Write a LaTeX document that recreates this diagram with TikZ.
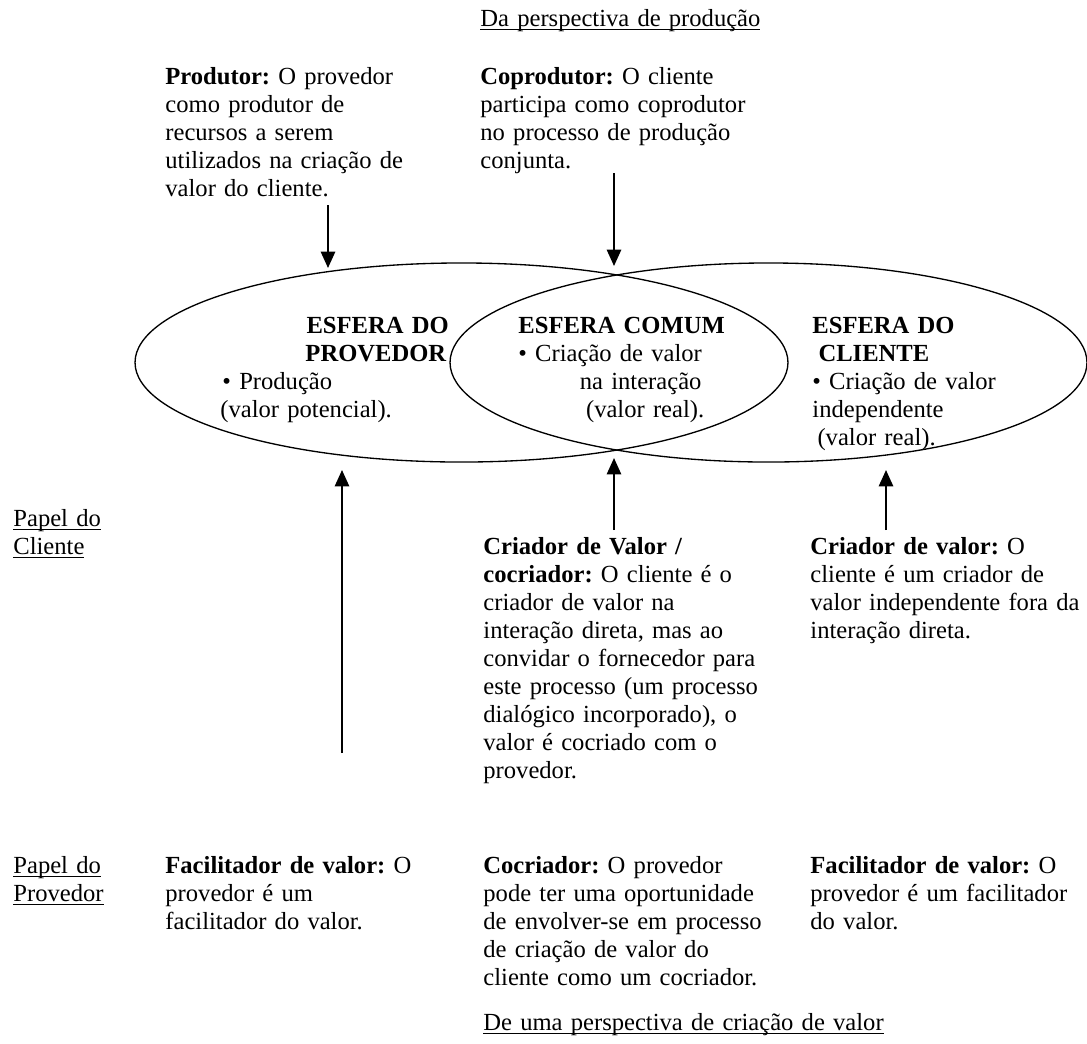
\documentclass[tikz,border=0pt]{standalone}
\usepackage{fontspec}
\setmainfont{Liberation Serif}
\usetikzlibrary{arrows.meta, positioning, shapes.geometric}

\frenchspacing
\newcommand{\sublinha}[1]{\leavevmode\setbox0\hbox{#1}\rlap{\rule[-2.1pt]{\wd0}{0.7pt}}\box0}

\begin{document}
\begin{tikzpicture}[
    x=0.4878pt, y=-0.4878pt,
    texto/.style={anchor=base west, inner sep=0pt, text width=170pt, align=left, font=\fontsize{12}{13.66}\selectfont},
    titulo/.style={texto, text width=200pt},
    esfera/.style={ellipse, draw, line width=0.65pt, inner sep=0pt, minimum height=97.1pt},
    seta/.style={-{Triangle[length=8pt, width=7pt]}, line width=0.9pt}
  ]
    \useasboundingbox (0,0) rectangle (1087,1043);

    % esferas
    \node[esfera, minimum width=318.5pt] (provedor) at (461.5,362.5) {};
    \node[esfera, minimum width=310.7pt] (cliente) at (768.5,362.5) {};

    \node[texto] (esfprov) at (220,333) {\hspace*{42pt}\textbf{ESFERA DO}\\\hspace*{41.5pt}\textbf{PROVEDOR}\\\hspace*{1pt}• Produção\\(valor potencial).};
    \node[texto] (esfcomum) at (518,333) {\textbf{ESFERA COMUM}\\• Criação de valor\\\hspace*{30pt}na interação\\\hspace*{33pt}(valor real).};
    \node[texto] (esfcli) at (812,333) {\textbf{ESFERA DO}\\\hspace*{3pt}\textbf{CLIENTE}\\• Criação de valor\\independente\\\hspace*{2.5pt}(valor real).};

    % perspectiva de producao
    \node[titulo] (perspprod) at (480,26) {\sublinha{Da perspectiva de produção}};
    \node[texto] (produtor) at (165,84) {\textbf{Produtor:} O provedor\\como produtor de\\recursos a serem\\utilizados na criação de\\valor do cliente.};
    \node[texto] (coprodutor) at (480,84) {\textbf{Coprodutor:} O cliente\\participa como coprodutor\\no processo de produção\\conjunta.};

    % papel do cliente
    \node[texto] (papelcli) at (13,526) {\sublinha{Papel do}\\\sublinha{Cliente}};
    \node[texto] (criador) at (483,554) {\textbf{Criador de Valor /}\\\textbf{cocriador:} O cliente é o\\criador de valor na\\interação direta, mas ao\\convidar o fornecedor para\\este processo (um processo\\dialógico incorporado), o\\valor é cocriado com o\\provedor.};
    \node[texto] (criadorcli) at (810,554) {\textbf{Criador de valor:} O\\cliente é um criador de\\valor independente fora da\\interação direta.};

    % papel do provedor
    \node[texto] (papelprov) at (13,873) {\sublinha{Papel do}\\\sublinha{Provedor}};
    \node[texto] (facilitador) at (165,873) {\textbf{Facilitador de valor:} O\\provedor é um\\facilitador do valor.};
    \node[texto] (cocriador) at (483,873) {\textbf{Cocriador:} O provedor\\pode ter uma oportunidade\\de envolver-se em processo\\de criação de valor do\\cliente como um cocriador.};
    \node[texto] (facilitadorcli) at (810,873) {\textbf{Facilitador de valor:} O\\provedor é um facilitador\\do valor.};
    \node[titulo] (perspcria) at (483,1030) {\sublinha{De uma perspectiva de criação de valor}};

    % pontas das setas
    \coordinate (pA) at (328,205); \coordinate (tA) at (328,268);
    \coordinate (pB) at (614,173); \coordinate (tB) at (614,266);
    \coordinate (pC) at (342,753); \coordinate (tC) at (342,470);
    \coordinate (pD) at (614,530); \coordinate (tD) at (614,458);
    \coordinate (pE) at (886,530); \coordinate (tE) at (886,470);

    \draw[seta] (pA) -- (tA);
    \draw[seta] (pB) -- (tB);
    \draw[seta] (pC) -- (tC);
    \draw[seta] (pD) -- (tD);
    \draw[seta] (pE) -- (tE);
\end{tikzpicture}
\end{document}
